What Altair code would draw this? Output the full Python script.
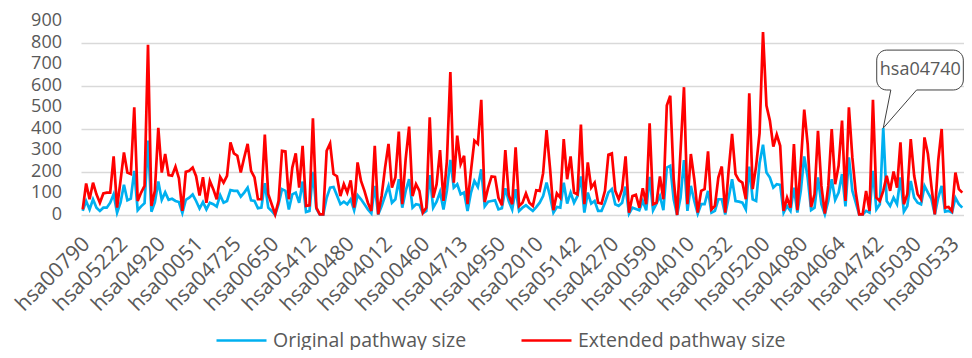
import altair as alt
import pandas as pd

extended = [26,146,73,150,96,57,100,104,104,272,34,158,290,197,190,500,65,104,135,790,42,112,404,197,283,185,182,224,170,19,200,205,220,180,90,175,
            57,158,120,73,177,150,182,337,286,275,197,267,330,205,174,73,73,373,96,50,3,65,298,295,73,220,286,127,321,42,45,449,34,3,3,298,332,
            190,180,88,143,104,161,34,244,158,112,57,19,321,3,88,220,330,127,174,387,50,260,410,88,143,112,11,34,453,80,143,301,65,252,663,150,368,
            236,275,50,205,345,330,534,60,127,179,177,80,45,301,92,50,314,42,57,100,57,42,115,112,194,394,220,22,100,80,352,166,272,104,96,
            419,50,244,127,150,57,53,112,280,286,112,73,120,272,11,88,94,34,124,50,425,50,57,179,73,508,553,166,0,298,593,50,283,166,11,112,120,
            295,26,42,174,225,11,208,376,190,161,150,73,565,120,228,380,849,508,438,317,373,321,19,80,34,329,22,236,489,329,37,96,391,135,6,135,399,
            143,228,438,65,500,267,104,3,3,112,19,534,80,65,112,182,112,202,127,337,50,96,352,182,96,73,360,283,135,3,252,399,34,37,19,197,120,104]

original = [19,65,26,73,34,19,34,34,57,96,11,57,140,68,76,205,22,40,55,345,15,60,155,70,105,70,75,65,60,10,70,80,95,65,30,60,
            26,57,50,39,92,57,65,116,112,112,85,104,127,68,65,31,34,148,34,19,0,50,120,112,26,96,104,57,155,14,19,200,30,2,2,80,127,
            130,90,50,62,50,73,22,92,73,50,26,8,135,2,42,88,135,57,73,166,34,112,166,34,50,47,8,19,185,34,62,107,26,115,256,127,143,
            96,104,19,104,158,130,212,40,62,65,68,26,31,124,65,25,120,19,34,45,31,19,37,57,88,150,88,11,37,34,150,53,104,57,88,
            179,11,104,53,65,19,19,57,104,120,50,42,57,132,6,34,28,22,65,22,177,22,53,88,22,220,228,73,0,80,255,19,135,65,6,50,50,
            112,11,19,73,73,3,80,166,65,62,57,26,224,73,65,240,326,197,174,127,143,140,11,42,19,127,11,112,272,174,23,34,174,50,3,65,166,
            70,104,190,40,267,112,57,2,2,19,11,205,26,50,403,65,42,80,50,174,16,42,158,80,57,50,135,104,75,2,80,135,16,19,11,80,50,34]

tick_labels = ["hsa00790","hsa05222","hsa04920","hsa00051","hsa04725","hsa00650","hsa05412","hsa00480",
               "hsa04012","hsa00460","hsa04713","hsa04950","hsa02010","hsa05142","hsa04270","hsa00590",
               "hsa04010","hsa00232","hsa05200","hsa04080","hsa04064","hsa04742","hsa05030","hsa00533"]
label_step = 11
tick_idx = [k * label_step for k in range(len(tick_labels))]
y_ticks = [0, 100, 200, 300, 400, 500, 600, 700, 800, 900]
series_names = ["Original pathway size", "Extended pathway size"]
series_colors = ["#00b0f0", "#ff0000"]

# callout annotation (data units: category index, value)
callout_text = ["hsa04740"]
callout_x = [243.8]
callout_y = [672]
box_x = [231.1]
box_x2 = [256.3]
box_y = [580]
box_y2 = [765]
tail_x = [235.2, 233, 242.7]
tail_y = [580, 403, 580]
tail_order = [0, 1, 2]

n = len(extended)
df = pd.DataFrame({"i": list(range(n)), "orig": original, "ext": extended})

XS = alt.Scale(domain=[-0.5, n - 0.5], nice=False, zero=False)
YS = alt.Scale(domain=[0, 900], nice=False)
color_scale = alt.Scale(domain=series_names, range=series_colors)
GRAY = "#595959"

x_axis = alt.Axis(values=tick_idx, labels=False, ticks=False, domain=False, grid=False, title=None)
y_axis = alt.Axis(values=y_ticks, labels=False, ticks=False, domain=False, gridColor="#d9d9d9",
                  gridWidth=1.6, title=None)

legend = alt.Legend(title=None, orient="none", legendX=134, legendY=293, direction="horizontal",
                    symbolType="stroke", symbolSize=2500, symbolStrokeWidth=2.5,
                    labelFontSize=19.5, labelColor=GRAY, columnPadding=49, labelOffset=5,
                    labelLimit=400)

base = alt.Chart(df)
blue = base.mark_line(strokeWidth=2.7).transform_calculate(s="'" + series_names[0] + "'").encode(
    x=alt.X("i:Q", scale=XS, axis=x_axis),
    y=alt.Y("orig:Q", scale=YS, axis=y_axis),
    color=alt.Color("s:N", scale=color_scale, legend=legend),
)
red = base.mark_line(strokeWidth=2.7).transform_calculate(s="'" + series_names[1] + "'").encode(
    x=alt.X("i:Q", scale=XS, axis=x_axis),
    y=alt.Y("ext:Q", scale=YS, axis=y_axis),
    color=alt.Color("s:N", scale=color_scale, legend=legend),
)

# axis tick labels as text marks
xl_df = pd.DataFrame({"i": tick_idx, "t": tick_labels, "y": [0] * len(tick_idx)})
xlabels = alt.Chart(xl_df).mark_text(angle=315, align="right", baseline="middle", fontSize=21,
                                     color=GRAY, xOffset=4, yOffset=26).encode(
    x=alt.X("i:Q", scale=XS), y=alt.Y("y:Q", scale=YS), text="t:N")

yl_df = pd.DataFrame({"v": y_ticks, "x": [-0.5] * len(y_ticks), "t": [str(v) for v in y_ticks]})
ylabels = alt.Chart(yl_df).mark_text(align="right", baseline="middle", fontSize=18, color=GRAY,
                                     xOffset=-19).encode(
    x=alt.X("x:Q", scale=XS), y=alt.Y("v:Q", scale=YS), text="t:N")

box_df = pd.DataFrame({"x": box_x, "x2": box_x2, "y": box_y, "y2": box_y2})
box = alt.Chart(box_df).mark_rect(fill="white", stroke="#404040", strokeWidth=1, cornerRadius=10,
                                  clip=False).encode(
    x=alt.X("x:Q", scale=XS), x2="x2:Q", y=alt.Y("y:Q", scale=YS), y2="y2:Q")

gap_df = pd.DataFrame({"x": [tail_x[0]], "x2": [tail_x[2]], "y": [tail_y[0]]})
gap = alt.Chart(gap_df).mark_rule(stroke="white", strokeWidth=2.5).encode(
    x=alt.X("x:Q", scale=XS), x2="x2:Q", y=alt.Y("y:Q", scale=YS))

tail_df = pd.DataFrame({"x": tail_x, "y": tail_y, "o": tail_order})
tail = alt.Chart(tail_df).mark_line(stroke="#404040", strokeWidth=1).encode(
    x=alt.X("x:Q", scale=XS), y=alt.Y("y:Q", scale=YS), order="o:Q")

txt_df = pd.DataFrame({"x": callout_x, "y": callout_y, "t": callout_text})
txt = alt.Chart(txt_df).mark_text(fontSize=18, color=GRAY, align="center", baseline="middle").encode(
    x=alt.X("x:Q", scale=XS), y=alt.Y("y:Q", scale=YS), text="t:N")

chart = alt.layer(blue, red, xlabels, ylabels, box, gap, tail, txt).properties(
    width=883, height=194,
    padding={"left": 73, "top": 13, "right": 0, "bottom": 135},
    autosize="none",
).configure(font="Open Sans").configure_view(stroke=None)

chart.save("out.html", embed_options={"renderer": "svg", "actions": False})
